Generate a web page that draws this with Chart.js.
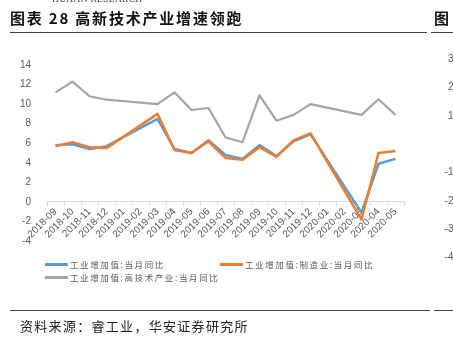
<!DOCTYPE html>
<html>
<head>
<meta charset="utf-8">
<script src="https://cdn.jsdelivr.net/npm/chart.js@4.4.0/dist/chart.umd.min.js"></script>
<style>
  body { margin: 0; background: #fff; width: 453px; height: 337px; overflow: hidden; position: relative; }
  #chart { position: absolute; left: 0; top: 0; }
  .txt { position: absolute; white-space: nowrap; }
  .cjk { font-family: "Noto Sans CJK SC", sans-serif; }
  .rule { position: absolute; height: 1.5px; background: #404040; }
  .legend-item { position: absolute; font-family: "Noto Sans CJK SC", sans-serif; font-size: 8.5px; letter-spacing: 1.6px; color: #595959; line-height: 10px; }
  .legend-item span { display: inline-block; width: 23px; height: 2.5px; vertical-align: middle; margin-right: 2px; position: relative; top: -1px; }
  .rtick { position: absolute; left: 430px; width: 29px; text-align: right; font-family: "Liberation Sans", sans-serif; font-size: 10px; color: #595959; }
</style>
</head>
<body>
<canvas id="chart" width="453" height="337"></canvas>

<div class="txt" style="left:52px; top:-6px; font-family:'Liberation Serif',serif; font-size:9.5px; color:#3c4a66; letter-spacing:0.3px;">HUAAN RESEARCH</div>
<div class="txt cjk" style="left:10px; top:7px; font-size:15px; font-weight:bold; letter-spacing:1.8px; color:#111;">图表 28 高新技术产业增速领跑</div>
<div class="txt cjk" style="left:434px; top:7px; font-size:15px; font-weight:bold; letter-spacing:4px; color:#111;">图表 29</div>
<div class="rule" style="left:10px; top:31.5px; width:417px;"></div>
<div class="rule" style="left:431px; top:31.5px; width:22px;"></div>

<div class="rtick" style="top:53px;">30</div>
<div class="rtick" style="top:81px;">20</div>
<div class="rtick" style="top:110px;">10</div>
<div class="rtick" style="top:138px;">0</div>
<div class="rtick" style="top:166px;">-10</div>
<div class="rtick" style="top:195px;">-20</div>
<div class="rtick" style="top:223px;">-30</div>
<div class="rtick" style="top:251px;">-40</div>

<div id="legend"></div>

<div class="rule" style="left:10px; top:309.5px; width:420px;"></div>
<div class="rule" style="left:434px; top:309.5px; width:19px;"></div>
<div class="txt cjk" style="left:20px; top:316px; font-size:13px; letter-spacing:1.3px; color:#222;">资料来源：睿工业，华安证券研究所</div>

<script>
// months on the x axis (Jan/Feb not reported separately, left as gaps)
const months = ['2018-09', '2018-10', '2018-11', '2018-12', '2019-01', '2019-02', '2019-03',
  '2019-04', '2019-05', '2019-06', '2019-07', '2019-08', '2019-09', '2019-10', '2019-11',
  '2019-12', '2020-01', '2020-02', '2020-03', '2020-04', '2020-05'];

const industryYoY = [5.8, 5.9, 5.4, 5.7, null, null, 8.5, 5.4, 5.0, 6.3, 4.8, 4.4, 5.8, 4.7, 6.2, 6.9, null, null, -1.1, 3.9, 4.4];
const manufacturingYoY = [5.7, 6.1, 5.6, 5.5, null, null, 9.0, 5.3, 5.0, 6.2, 4.5, 4.3, 5.6, 4.6, 6.3, 7.0, null, null, -1.8, 5.0, 5.2];
const hightechYoY = [11.2, 12.3, 10.8, 10.45, null, null, 10.0, 11.2, 9.4, 9.6, 6.6, 6.1, 10.9, 8.3, 8.9, 10.0, null, null, 8.9, 10.5, 8.9];

const seriesNames = ['工业增加值:当月同比', '工业增加值:制造业:当月同比', '工业增加值:高技术产业:当月同比'];
const seriesColors = ['#5B9BD5', '#ED7D31', '#A5A5A5'];

const yTicks = { min: -4, max: 14, step: 2 };

// legend laid out like the Excel one: two on the first row, one below
const legendPos = [[45, 259], [220, 259], [45, 272]];
const legendBox = document.getElementById('legend');
seriesNames.forEach(function(name, i) {
  const item = document.createElement('div');
  item.className = 'legend-item';
  item.style.left = legendPos[i][0] + 'px';
  item.style.top = legendPos[i][1] + 'px';
  item.innerHTML = '<span style="background:' + seriesColors[i] + '"></span>' + name;
  legendBox.appendChild(item);
});

const tickFont = { family: '"Liberation Sans", Arial, sans-serif', size: 10 };

new Chart(document.getElementById('chart'), {
  type: 'line',
  data: {
    labels: months,
    datasets: [
      { label: seriesNames[0], data: industryYoY, borderColor: seriesColors[0], borderWidth: 2.5, order: 1 },
      { label: seriesNames[1], data: manufacturingYoY, borderColor: seriesColors[1], borderWidth: 2.5, order: 0 },
      { label: seriesNames[2], data: hightechYoY, borderColor: seriesColors[2], borderWidth: 2.2, order: 2 }
    ]
  },
  options: {
    responsive: false,
    animation: false,
    spanGaps: true,
    elements: {
      line: { tension: 0, borderJoinStyle: 'round' },
      point: { radius: 0 }
    },
    layout: { padding: { top: 65, bottom: 96, left: 0, right: 49 } },
    plugins: {
      legend: { display: false },
      tooltip: { enabled: false }
    },
    scales: {
      x: {
        position: { y: 0 },
        offset: true,
        grid: { display: true, offset: true, drawOnChartArea: false, drawTicks: true, tickLength: 4, color: '#D9D9D9' },
        border: { display: true, color: '#D9D9D9', width: 1 },
        ticks: { color: '#595959', font: tickFont, minRotation: 45, maxRotation: 45, autoSkip: false, padding: 0 },
        afterFit: function(scale) { scale.height = 0; }
      },
      y: {
        min: yTicks.min,
        max: yTicks.max,
        grid: { display: false },
        border: { display: false },
        ticks: { stepSize: yTicks.step, color: '#595959', font: tickFont, padding: 8 },
        afterFit: function(scale) { scale.width = 47; }
      }
    }
  }
});
</script>
</body>
</html>
